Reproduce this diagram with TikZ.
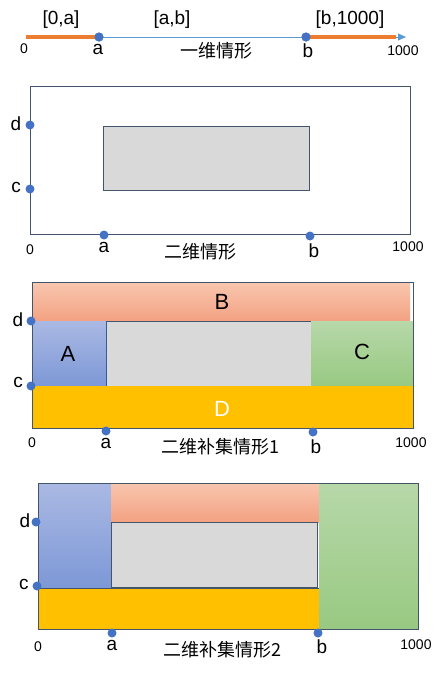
\documentclass[tikz,border=0pt]{standalone}
\usepackage{fontspec}
\setmainfont{Liberation Sans}
\newfontfamily\cjk{Noto Sans CJK SC}
\usetikzlibrary{arrows.meta}
\definecolor{dotblue}{HTML}{4472C4}
\definecolor{lineblue}{HTML}{5B9BD5}
\definecolor{orng}{HTML}{ED7D31}
\definecolor{frame}{HTML}{44546A}
\definecolor{greyfill}{HTML}{D9D9D9}
\definecolor{Btop}{HTML}{F8C6AE}
\definecolor{Bbot}{HTML}{F3A182}
\definecolor{Atop}{HTML}{AAB9E3}
\definecolor{Abot}{HTML}{7D98D7}
\definecolor{Ctop}{HTML}{B7D8A9}
\definecolor{Cbot}{HTML}{98C982}
\definecolor{Dfill}{HTML}{FFC000}
\tikzset{
  dot/.style={circle,fill=dotblue,inner sep=0pt,minimum size=9pt},
  lbl/.style={inner sep=0pt,font=\fontsize{19}{21}\selectfont},
  small/.style={inner sep=0pt,font=\fontsize{14}{16}\selectfont},
  big/.style={inner sep=0pt,font=\fontsize{19}{21}\selectfont},
  captxt/.style={inner sep=0pt,font=\cjk\fontsize{18}{20}\selectfont},
  region/.style={inner sep=0pt,font=\fontsize{22}{24}\selectfont},
  frm/.style={draw=frame,line width=1pt},
}
\begin{document}
\begin{tikzpicture}[x=1pt,y=-1pt]
\useasboundingbox (0,0) rectangle (445,675);
% ---------- panel 1
\coordinate (p0) at (26,37);
\coordinate (pend) at (406,37);
\coordinate (po) at (396,37);
\node[dot] (pa) at (99,37) {};
\node[dot] (pb) at (306,37) {};
\draw[lineblue,line width=0.8pt,-{Triangle[length=8pt,width=7pt]}] (pa.center) -- (pend);
\draw[orng,line width=3.5pt] (p0) -- (pa.center);
\draw[orng,line width=3.5pt] (pb.center) -- (po);
\node[dot] at (pa) {};
\node[dot] at (pb) {};
\node[big] (t0a) at (61,20) {[0,a]};
\node[big] (tab) at (172,20) {[a,b]};
\node[big] (tb1) at (350,20) {[b,1000]};
\node[small] (x0) at (24,49) {0};
\node[lbl] (xa) at (98,49) {a};
\node[captxt] (c1) at (216,51) {一维情形};
\node[lbl] (xb) at (308,51) {b};
\node[small] (x1000) at (403,51) {1000};
% ---------- panel 2
\draw[frm] (30,86) rectangle (410,234);
\draw[frame,fill=greyfill,line width=0.8pt] (103,126) rectangle (309,190);
\node[dot] (d2) at (30,125) {};
\node[dot] (c2) at (30,189) {};
\node[dot] (a2) at (104,235) {};
\node[dot] (b2) at (310,236) {};
\node[lbl] at (16,124) {d};
\node[lbl] at (16,187) {c};
\node[small] at (30,250) {0};
\node[lbl] at (104,247) {a};
\node[captxt] at (200,252) {二维情形};
\node[lbl] at (314,251) {b};
\node[small] at (408,247) {1000};
% ---------- panel 3
\shade[top color=Btop,bottom color=Bbot] (32,283) rectangle (410,321);
\shade[top color=Atop,bottom color=Abot] (32,321) rectangle (106,386);
\draw[frame,fill=greyfill,line width=0.8pt] (106,321) rectangle (311,386);
\shade[top color=Ctop,bottom color=Cbot] (311,321) rectangle (413,386);
\fill[Dfill] (32,386) rectangle (413,428);
\draw[dotblue!80!black,line width=0.8pt] (106,321) -- (106,386);
\draw[frm] (32,282) rectangle (413,428);
\node[region] at (222,302) {B};
\node[region] at (68,354) {A};
\node[region] at (362,352) {C};
\node[region,text=white] at (222,409) {D};
\node[dot] (d3) at (31,321) {};
\node[dot] (c3) at (31,386) {};
\node[dot] (a3) at (106,431) {};
\node[dot] (b3) at (313,432) {};
\node[lbl] at (18,320) {d};
\node[lbl] at (18,382) {c};
\node[small] at (32,443) {0};
\node[lbl] at (106,443) {a};
\node[captxt] at (220,447) {二维补集情形1};
\node[lbl] at (316,447) {b};
\node[small] at (411,443) {1000};
% ---------- panel 4
\shade[top color=Atop,bottom color=Abot] (38,483) rectangle (111,588);
\shade[top color=Btop,bottom color=Bbot] (111,483) rectangle (319,522);
\draw[frame,fill=greyfill,line width=0.8pt] (111,522) rectangle (317,587);
\fill[Dfill] (38,588) rectangle (319,629);
\draw[frame,line width=0.6pt] (38,588) -- (319,588);
\shade[top color=Ctop,bottom color=Cbot] (319,483) rectangle (418,629);
\draw[frm] (38,483) rectangle (418,629);
\node[dot] (d4) at (36,522) {};
\node[dot] (c4) at (37,586) {};
\node[dot] (a4) at (112,633) {};
\node[dot] (b4) at (318,633) {};
\node[lbl] at (25,521) {d};
\node[lbl] at (24,584) {c};
\node[small] at (38,647) {0};
\node[lbl] at (112,645) {a};
\node[captxt] at (222,650) {二维补集情形2};
\node[lbl] at (322,647) {b};
\node[small] at (416,645) {1000};
\end{tikzpicture}
\end{document}
